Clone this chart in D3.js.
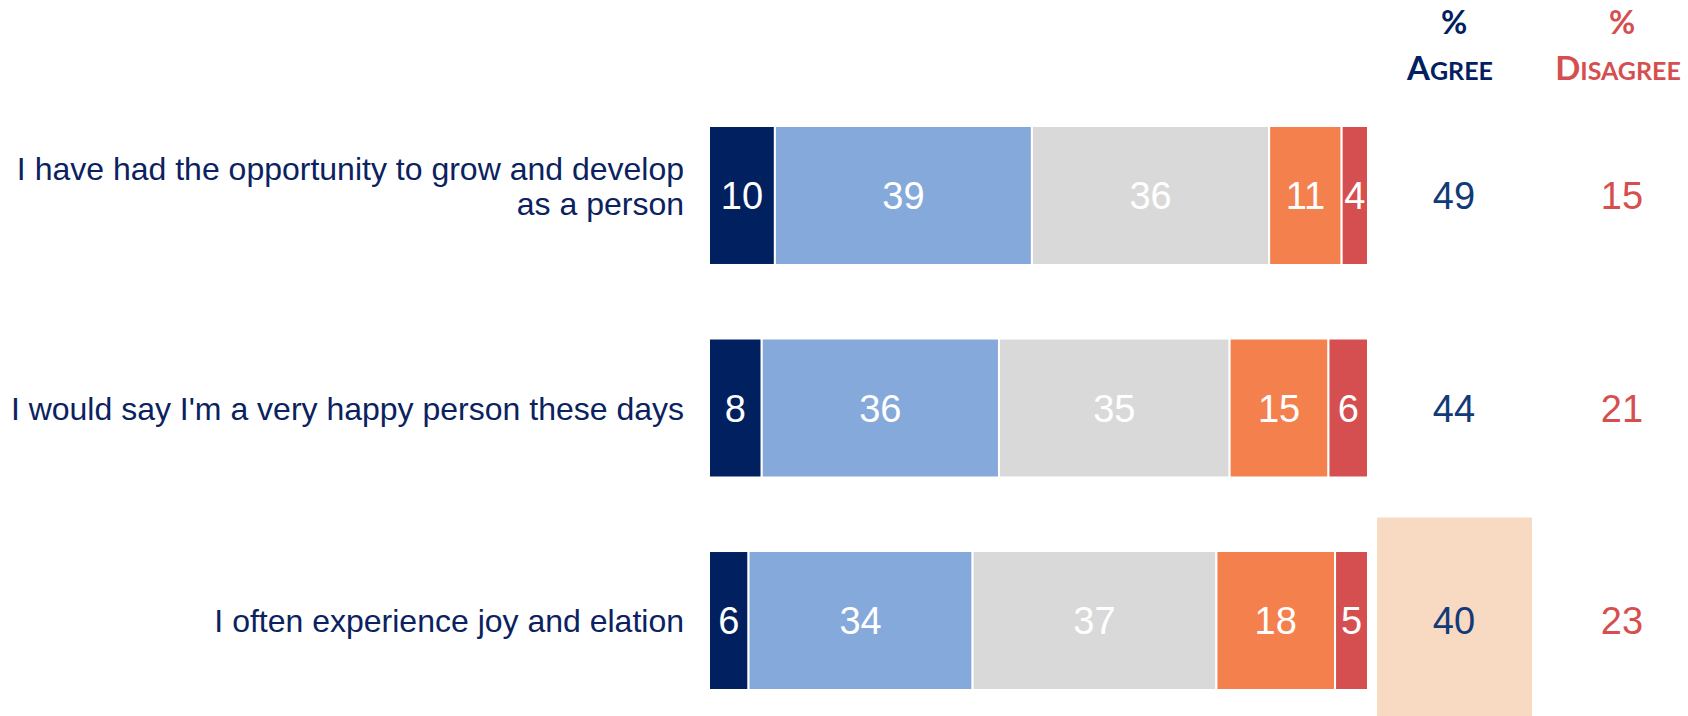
<!DOCTYPE html>
<html>
<head>
<meta charset="utf-8">
<script src="https://cdn.jsdelivr.net/npm/d3@7"></script>
<style>
  html, body { margin: 0; padding: 0; background: #ffffff; }
  svg { display: block; }
</style>
</head>
<body>
<svg id="chart" width="1688" height="716"></svg>
<script>
// Survey statements (each line of a label is its own entry)
const statements = [
  ["I have had the opportunity to grow and develop", "as a person"],
  ["I would say I'm a very happy person these days"],
  ["I often experience joy and elation"]
];

// Response shares, in percent, from strongly agree to strongly disagree
const responseKeys = ["strongAgree", "agree", "neutral", "disagree", "strongDisagree"];
const strongAgree    = [10, 8, 6];
const agree          = [39, 36, 34];
const neutral        = [36, 35, 37];
const disagree       = [11, 15, 18];
const strongDisagree = [4, 6, 5];

// Summary columns
const pctAgree    = [49, 44, 40];
const pctDisagree = [15, 21, 23];
const highlightRow = 2;   // summary cell shaded in the agree column

const segmentColors = ["#002060", "#85A9DB", "#D9D9D9", "#F4804E", "#D54F50"];

const rows = statements.map((s, i) => ({
  idx: i,
  strongAgree: strongAgree[i],
  agree: agree[i],
  neutral: neutral[i],
  disagree: disagree[i],
  strongDisagree: strongDisagree[i]
}));

const svg = d3.select("#chart");

const x = d3.scaleLinear().domain([0, 100]).range([709, 1368]);
const y = d3.scaleBand()
  .domain(rows.map(d => d.idx))
  .range([126, 690])
  .paddingInner(0.346)
  .paddingOuter(0);

const summaryX = d3.scalePoint()
  .domain(["agree", "disagree"])
  .range([1454, 1622]);

const color = d3.scaleOrdinal().domain(responseKeys).range(segmentColors);

const stack = d3.stack().keys(responseKeys);
const series = stack(rows);

// highlight cell behind the agree figure
svg.append("rect")
  .attr("x", summaryX("agree") - 77)
  .attr("y", y(highlightRow) + y.bandwidth() / 2 - 103)
  .attr("width", 155)
  .attr("height", 220)
  .attr("fill", "#F8D9C2");

// stacked bars
const layer = svg.append("g").selectAll("g")
  .data(series)
  .join("g")
  .attr("fill", d => color(d.key));

layer.selectAll("rect")
  .data(d => d)
  .join("rect")
  .attr("x", d => x(d[0]))
  .attr("y", d => y(d.data.idx))
  .attr("width", d => x(d[1]) - x(d[0]))
  .attr("height", y.bandwidth())
  .attr("stroke", "#ffffff")
  .attr("stroke-width", 2);

// segment value labels
const labelFont = 38;
const capOffset = labelFont * 0.36;
layer.selectAll("text")
  .data(d => d)
  .join("text")
  .attr("x", d => (x(d[0]) + x(d[1])) / 2)
  .attr("y", d => y(d.data.idx) + y.bandwidth() / 2 + capOffset)
  .attr("text-anchor", "middle")
  .attr("font-family", "Liberation Sans, Arial, sans-serif")
  .attr("font-size", labelFont)
  .attr("fill", "#ffffff")
  .text(d => d[1] - d[0]);

// statement labels
const lineGap = 35;
const stmt = svg.append("g").selectAll("text")
  .data(statements)
  .join("text")
  .attr("text-anchor", "end")
  .attr("font-family", "Liberation Sans, Arial, sans-serif")
  .attr("font-size", 32)
  .attr("fill", "#0B2260");

stmt.each(function(lines, i) {
  const cy = y(i) + y.bandwidth() / 2;
  const first = cy - (lines.length - 1) * lineGap / 2 + 11.5 - (lines.length > 1 ? 9 : 0);
  d3.select(this).selectAll("tspan")
    .data(lines)
    .join("tspan")
    .attr("x", 684)
    .attr("y", (l, j) => first + j * lineGap)
    .text(l => l);
});

// summary figures
svg.append("g").selectAll("text")
  .data(pctAgree)
  .join("text")
  .attr("x", summaryX("agree"))
  .attr("y", (d, i) => y(i) + y.bandwidth() / 2 + capOffset)
  .attr("text-anchor", "middle")
  .attr("font-family", "Liberation Sans, Arial, sans-serif")
  .attr("font-size", labelFont)
  .attr("fill", "#123A78")
  .text(d => d);

svg.append("g").selectAll("text")
  .data(pctDisagree)
  .join("text")
  .attr("x", summaryX("disagree"))
  .attr("y", (d, i) => y(i) + y.bandwidth() / 2 + capOffset)
  .attr("text-anchor", "middle")
  .attr("font-family", "Liberation Sans, Arial, sans-serif")
  .attr("font-size", labelFont)
  .attr("fill", "#D64F4F")
  .text(d => d);

// column headers in small caps
const headers = [
  { key: "agree", big: "A", small: "GREE", color: "#002060" },
  { key: "disagree", big: "D", small: "ISAGREE", color: "#D54F50" }
];

const head = svg.append("g").selectAll("g")
  .data(headers)
  .join("g")
  .attr("font-family", "Lato, 'Open Sans', sans-serif")
  .attr("font-weight", 700)
  .attr("fill", d => d.color);

head.append("text")
  .attr("x", d => summaryX(d.key))
  .attr("y", 34)
  .attr("text-anchor", "middle")
  .attr("font-size", 32)
  .text("%");

const word = head.append("text")
  .attr("x", d => summaryX(d.key) - 4)
  .attr("y", 80)
  .attr("text-anchor", "middle");
word.append("tspan").attr("font-size", 33).text(d => d.big);
word.append("tspan").attr("font-size", 25).text(d => d.small);
</script>
</body>
</html>
